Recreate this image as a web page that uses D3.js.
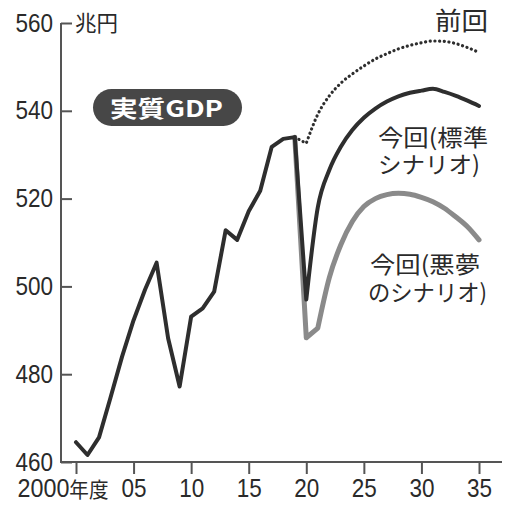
<!DOCTYPE html>
<html><head><meta charset="utf-8">
<script src="https://cdn.jsdelivr.net/npm/d3@7"></script>
<style>body{margin:0;background:#fff}</style></head>
<body>
<svg id="c" width="507" height="510"></svg>
<script>
// ---- data ----
const histYears = [2000,2001,2002,2003,2004,2005,2006,2007,2008,2009,2010,2011,2012,2013,2014,2015,2016,2017,2018,2019];
const histValues = [464.5,461.6,465.6,474.7,484.0,492.3,499.3,505.4,488.2,477.2,493.1,495.0,498.8,512.8,510.6,517.1,521.8,531.8,533.6,534.0];
const forecastYears = [2019,2020,2021,2022,2023,2024,2025,2026,2027,2028,2029,2030,2031,2032,2033,2034,2035];
const standardValues = [534.0,497.0,518.0,526.5,531.8,535.6,538.4,540.5,542.1,543.3,544.1,544.6,545.0,544.3,543.4,542.3,541.1];
const worstValues    = [534.0,488.3,490.5,502.0,509.5,514.8,518.2,520.0,520.9,521.2,521.0,520.3,519.3,517.8,515.8,513.6,510.6];
const previousValues = [534.0,532.6,539.2,543.4,546.3,548.4,550.2,551.8,553.0,554.1,554.9,555.5,555.9,555.8,555.3,554.4,553.3];
const yTicks = [460,480,500,520,540,560];
const xTicks = [2000,2005,2010,2015,2020,2025,2030,2035];
const xTickLabels = ["2000","05","10","15","20","25","30","35"];

// ---- drawing ----
const svg = d3.select("#c");
const x = d3.scaleLinear().domain([2000,2035]).range([76,479]);
const y = d3.scaleLinear().domain([460,560]).range([462,23]);
const ink = "#2e2e2e", axisC = "#555";
const numFont = "'Liberation Sans', Arial, sans-serif";
const jpFont = "'Noto Sans CJK JP', sans-serif";

// axis lines
svg.append("line").attr("x1",61).attr("x2",61).attr("y1",y(560)).attr("y2",y(460)+1)
  .attr("stroke",axisC).attr("stroke-width",2);
svg.append("line").attr("x1",60).attr("x2",502).attr("y1",y(460)).attr("y2",y(460))
  .attr("stroke",axisC).attr("stroke-width",2);

const yAxis = svg.append("g").attr("transform","translate(61,0)")
  .call(d3.axisLeft(y).tickValues(yTicks).tickSize(-11).tickSizeOuter(0).tickPadding(8));
const xAxis = svg.append("g").attr("transform",`translate(0,${y(460)})`)
  .call(d3.axisBottom(x).tickValues(xTicks).tickSize(12).tickSizeOuter(0).tickPadding(5)
    .tickFormat((d,i)=>xTickLabels[i]));
[yAxis,xAxis].forEach(g=>{
  g.select(".domain").remove();
  g.selectAll(".tick line").attr("stroke",axisC).attr("stroke-width",2);
  g.selectAll(".tick text").attr("fill","#2a2a2a").style("font-family",numFont).style("font-size","25px");
});
yAxis.selectAll(".tick text").attr("transform","scale(0.9,1)").attr("x",-9);
xAxis.selectAll(".tick text").attr("transform","scale(0.9,1)");
// first x label: 2000年度
const first = xAxis.select(".tick text");
first.attr("transform",null).attr("text-anchor","start").attr("x",-59).text(null);
first.append("tspan").text(xTickLabels[0]);
first.append("tspan").style("font-family",jpFont).style("font-size","21px").text("年度");
first.attr("textLength",91).attr("lengthAdjust","spacingAndGlyphs");

// lines
const lin = d3.line().x(d=>x(d[0])).y(d=>y(d[1]));
const crv = d3.line().x(d=>x(d[0])).y(d=>y(d[1])).curve(d3.curveMonotoneX);
const pairs = (ys,vs)=>ys.map((yr,i)=>[yr,vs[i]]);
function pathFor(ys,vs,breakAt){
  const p = pairs(ys,vs);
  const idx = ys.indexOf(breakAt);
  return lin(p.slice(0,idx+1)) + crv(p.slice(idx)).replace(/^M/,"L");
}
// worst (grey)
svg.append("path").attr("d",pathFor(forecastYears,worstValues,2021))
  .attr("fill","none").attr("stroke","#8a8a8a").attr("stroke-width",5).attr("stroke-linejoin","round").attr("stroke-linecap","round");
// previous (dotted)
svg.append("path").attr("d",pathFor(forecastYears,previousValues,2020))
  .attr("fill","none").attr("stroke",ink).attr("stroke-width",3.2).attr("stroke-dasharray","0.1 4.6").attr("stroke-linecap","round");
// historical + standard
const stdPath = lin(pairs(histYears,histValues)) + pathFor(forecastYears,standardValues,2020).replace(/^M/,"L");
svg.append("path").attr("d",stdPath)
  .attr("fill","none").attr("stroke",ink).attr("stroke-width",4).attr("stroke-linejoin","round").attr("stroke-linecap","round");

// texts
function jt(str,x0,base,w,size,opts={}){
  return svg.append("text").attr("x",x0).attr("y",base).text(str)
    .attr("textLength",w).attr("lengthAdjust","spacingAndGlyphs")
    .style("font-family",opts.font||jpFont).style("font-size",size+"px")
    .style("font-weight",opts.weight||"normal").attr("fill",opts.fill||"#2a2a2a");
}
jt("兆円",75,31,43,22);
jt("前回",435,30,53,25);
jt("今回(標準",378,146,110,23);
jt("シナリオ)",378,173,102,23);
jt("今回(悪夢",370,273,110,23);
jt("のシナリオ)",368,301,119,23);

svg.append("rect").attr("x",93).attr("y",89).attr("width",149).attr("height",37).attr("rx",18.5)
  .attr("fill","#474747");
jt("実質GDP",110,116.5,113,23,{fill:"#fff",weight:"bold"});
</script>
</body></html>
